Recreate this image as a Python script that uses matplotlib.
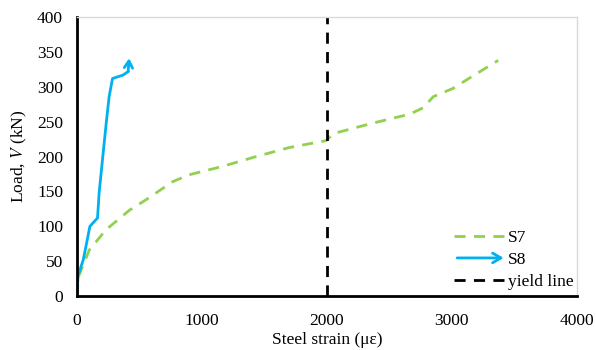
import matplotlib
matplotlib.use("Agg")
import matplotlib.pyplot as plt
from matplotlib.legend_handler import HandlerPatch
from matplotlib.patches import FancyArrowPatch
from matplotlib.lines import Line2D

plt.rcParams["font.family"] = ["Liberation Serif", "DejaVu Serif"]
plt.rcParams["mathtext.fontset"] = "stix"

# S7 (green dashed)
s7_strain = [0, 13, 99, 232, 419, 552, 765, 899, 1165, 1432, 1699, 1995,
             2051, 2344, 2664, 2770, 2851, 3011, 3117, 3370]
s7_load = [0, 28, 66, 95, 123, 138, 164, 174, 186, 200, 213, 223,
           233, 247, 261, 270, 286, 298, 310, 338]

# S8 (blue, arrow at end)
s8_strain = [0, 10, 51, 72, 104, 165, 178, 210, 237, 258, 285, 370, 410, 418]
s8_load = [0, 30, 52, 71, 100, 112, 148, 205, 252, 286, 312, 317, 322, 341]

yield_strain = 2000
GREEN, BLUE = "#92D050", "#00B0F0"


class ArrowHandler(HandlerPatch):
    def create_artists(self, legend, orig, xd, yd, w, h, fs, trans):
        p = FancyArrowPatch((-xd, h / 2 - yd), (-xd + w, h / 2 - yd),
                            arrowstyle="->,head_length=6,head_width=3.5",
                            color=BLUE, lw=2, transform=trans)
        return [p]


fig = plt.figure(figsize=(5.96, 3.5), dpi=100)
ax = fig.add_axes([0.129, 0.154, 0.839, 0.797])

ax.plot(s7_strain, s7_load, color=GREEN, lw=2, ls=(0, (4, 3)))
ax.plot(s8_strain[:-1], s8_load[:-1], color=BLUE, lw=2)
ax.annotate("", xy=(s8_strain[-1], s8_load[-1]), xytext=(s8_strain[-2], s8_load[-2]),
            arrowprops=dict(arrowstyle="->,head_length=0.5,head_width=0.3",
                            color=BLUE, lw=2, shrinkA=0, shrinkB=0))
ax.plot([yield_strain, yield_strain], [0, 400], color="black", lw=2, ls=(0, (4, 3)))

ax.set_xlim(0, 4000)
ax.set_ylim(0, 400)
ax.set_xticks(range(0, 4001, 1000))
ax.set_yticks(range(0, 401, 50))
ax.tick_params(length=0, labelsize=12.5)
ax.tick_params(axis="x", pad=12)
ax.tick_params(axis="y", pad=10)
for s in ("top", "right"):
    ax.spines[s].set_color("#d9d9d9")
    ax.spines[s].set_linewidth(1)
for s in ("left", "bottom"):
    ax.spines[s].set_color("black")
    ax.spines[s].set_linewidth(2)

ax.set_xlabel("Steel strain (με)", fontsize=12.5, labelpad=2)
ax.set_ylabel("Load, $\\mathit{V}$ (kN)", fontsize=12.5, labelpad=6)

h_s7 = Line2D([], [], color=GREEN, lw=2, ls=(0, (4, 3)))
h_s8 = FancyArrowPatch((0, 0), (1, 0))
h_y = Line2D([], [], color="black", lw=2, ls=(0, (4, 3)))
ax.legend([h_s7, h_s8, h_y], ["S7", "S8", "yield line"],
          handler_map={FancyArrowPatch: ArrowHandler()},
          loc="lower right", bbox_to_anchor=(1.025, -0.035), frameon=False,
          fontsize=12.5, handlelength=3.0, handletextpad=0.1, labelspacing=0.35)

fig.savefig("out.png", dpi=100)
